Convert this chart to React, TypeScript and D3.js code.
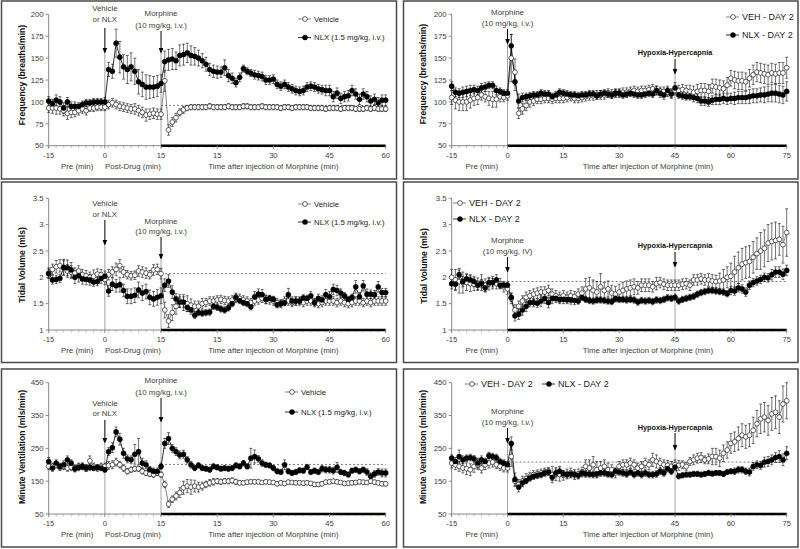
import React from 'react';
import * as d3 from 'd3';

// ---------- tick labels / names ----------
const leftXLabels = ['-15', '0', '15', '15', '30', '45', '60'];
const rightXLabels = ['-15', '0', '15', '30', '45', '60', '75'];
const freqTicks = [50, 75, 100, 125, 150, 175, 200];
const tvTicks = [1, 1.5, 2, 2.5, 3, 3.5];
const mvTicks = [50, 150, 250, 350, 450];
const leftNames = ['Vehicle', 'NLX (1.5 mg/kg, i.v.)'];
const rightNames = ['VEH - DAY 2', 'NLX - DAY 2'];

// ---------- Frequency, day 1 (pre -15..0, post-drug 1..15, morphine 1..60) ----------
const nlxA = [101,98,102,100,93,100,95,95,95,97,99,99,100,100,100,100,
137,135,167,151,140,137,140,135,123,120,117,117,117,118,121,
146,148,149,147,153,154,156,153,152,150,147,143,137,135,134,
134,139,130,127,122,128,138,135,133,131,130,129,125,125,126,
120,118,120,117,115,113,112,113,117,118,117,115,114,113,113,
106,110,104,106,107,113,109,103,109,106,101,103,99,102,102];
const vehA = [93,93,93,92,90,87,88,88,90,92,90,93,93,94,94,94,
97,99,97,95,94,93,92,92,90,88,85,86,87,86,86,
124,68,77,82,88,91,93,94,94,94,94,94,95,94,94,
94,94,95,94,94,94,95,95,94,94,94,95,94,94,94,
94,93,94,94,93,94,94,94,94,93,93,93,93,92,93,
93,93,92,93,93,93,92,92,92,93,92,93,92,92,92];
const nlxErrA = [5,5,6,6,6,5,5,5,4,4,4,4,4,4,4,5,
8,8,16,18,14,16,16,15,14,14,14,13,12,12,10,
12,12,12,10,12,12,11,11,10,9,8,8,7,7,7,
6,9,7,6,5,5,4,4,4,5,5,5,5,5,5,
5,5,5,5,5,5,5,5,5,5,5,5,5,6,6,
6,6,6,6,6,6,6,6,6,6,6,6,6,6,6];
const vehErrA = [5,6,7,6,6,7,6,5,5,5,5,4,4,4,4,4,
5,5,5,5,5,5,5,6,6,6,7,6,6,6,6,
12,6,5,5,4,4,3,3,3,3,3,3,3,3,3,
3,3,3,3,3,3,3,3,3,3,3,3,3,3,3,
3,3,3,3,3,3,3,3,3,3,3,3,3,3,3,
3,3,3,3,3,3,3,3,3,3,3,3,3,3,3];

// ---------- Frequency, day 2 (-15..75) ----------
const nlxB = [118,111,110,111,112,113,114,113,116,117,119,119,113,112,110,110,
164,123,101,105,106,107,108,108,110,109,109,106,108,111,110,
109,108,108,107,108,108,109,109,107,109,110,109,108,110,110,
108,109,110,109,108,108,109,110,109,113,110,108,113,109,116,
108,107,106,106,105,104,101,101,100,102,103,103,104,103,104,
104,105,105,105,106,107,107,108,108,109,110,110,109,108,112];
const vehB = [105,102,100,100,100,102,104,105,108,106,104,103,103,106,105,107,
150,134,87,92,96,100,101,103,103,104,104,103,104,104,104,
105,106,104,104,105,106,107,107,108,108,108,110,109,110,110,
111,111,112,113,112,113,113,114,115,113,112,112,111,110,113,
113,114,113,112,111,112,113,113,112,118,117,116,115,119,127,
125,124,124,123,127,131,134,133,132,131,133,132,133,133,139];
const nlxErrB = [5,5,5,6,6,6,5,5,5,5,4,4,5,4,4,4,
13,10,8,5,4,4,4,4,4,4,4,4,4,4,4,
4,4,4,4,4,4,4,4,4,4,4,4,4,4,4,
4,4,4,4,4,4,4,4,4,5,5,5,5,5,6,
4,4,4,4,5,5,5,5,5,5,6,6,6,6,6,
7,7,7,7,8,8,8,8,9,9,10,10,10,10,11];
const vehErrB = [8,10,10,10,10,9,8,8,6,6,8,9,9,6,5,5,
27,15,6,6,6,6,5,5,5,5,5,5,5,5,5,
5,5,5,5,5,5,5,5,5,5,5,5,5,5,5,
5,5,5,5,5,5,5,5,5,5,5,5,5,5,5,
6,6,6,7,7,8,8,8,8,8,9,9,9,9,9,
10,10,10,10,10,11,11,11,11,11,11,11,12,12,12];

// ---------- Tidal volume, day 1 ----------
const nlxC = [2.07,1.95,1.96,1.98,2.19,2.18,2.14,2.00,2.03,1.97,1.96,1.95,1.91,1.92,1.98,2.02,
1.74,1.87,1.84,1.86,1.75,1.64,1.64,1.66,1.76,1.70,1.73,1.62,1.59,1.62,1.65,
1.85,1.93,1.72,1.59,1.53,1.53,1.43,1.38,1.28,1.33,1.32,1.33,1.34,1.45,1.43,
1.40,1.38,1.42,1.50,1.62,1.56,1.52,1.50,1.44,1.63,1.68,1.67,1.58,1.60,1.58,
1.48,1.50,1.52,1.67,1.55,1.55,1.55,1.61,1.60,1.65,1.52,1.60,1.57,1.67,1.63,
1.77,1.75,1.70,1.65,1.58,1.62,1.82,1.63,1.84,1.68,1.68,1.67,1.82,1.71,1.71];
const vehC = [2.08,2.15,2.20,2.22,2.18,2.12,2.10,2.08,2.12,2.05,2.03,2.00,2.02,2.06,2.05,1.96,
2.05,2.10,2.15,2.22,2.10,2.05,2.03,2.04,2.12,2.10,2.08,2.05,2.14,2.15,2.07,
1.38,1.17,1.33,1.45,1.55,1.52,1.50,1.47,1.45,1.45,1.50,1.52,1.55,1.55,1.57,
1.58,1.56,1.55,1.57,1.60,1.60,1.57,1.55,1.52,1.55,1.57,1.60,1.58,1.57,1.55,
1.52,1.50,1.55,1.55,1.52,1.55,1.55,1.52,1.55,1.55,1.52,1.50,1.52,1.55,1.55,
1.55,1.52,1.55,1.52,1.50,1.52,1.55,1.55,1.52,1.55,1.52,1.55,1.55,1.55,1.55];
const nlxErrC = [0.08,0.08,0.08,0.08,0.15,0.15,0.14,0.12,0.12,0.10,0.10,0.10,0.08,0.08,0.10,0.10,
0.10,0.12,0.12,0.14,0.12,0.14,0.14,0.14,0.15,0.14,0.14,0.14,0.14,0.15,0.15,
0.12,0.12,0.12,0.10,0.10,0.10,0.08,0.08,0.06,0.06,0.06,0.06,0.06,0.06,0.06,
0.06,0.06,0.06,0.06,0.08,0.06,0.06,0.06,0.06,0.10,0.10,0.10,0.08,0.06,0.06,
0.06,0.06,0.06,0.12,0.08,0.08,0.06,0.06,0.06,0.08,0.06,0.08,0.08,0.10,0.10,
0.10,0.10,0.08,0.06,0.06,0.06,0.12,0.08,0.10,0.10,0.08,0.08,0.10,0.08,0.08];
const vehErrC = [0.10,0.10,0.12,0.12,0.14,0.12,0.12,0.10,0.10,0.10,0.10,0.10,0.12,0.10,0.10,0.10,
0.10,0.10,0.12,0.12,0.10,0.08,0.08,0.08,0.10,0.10,0.10,0.08,0.10,0.10,0.10,
0.15,0.12,0.15,0.15,0.12,0.15,0.15,0.12,0.10,0.10,0.10,0.08,0.08,0.08,0.08,
0.08,0.08,0.08,0.08,0.08,0.08,0.08,0.08,0.08,0.08,0.08,0.08,0.08,0.08,0.08,
0.08,0.08,0.08,0.08,0.08,0.08,0.08,0.08,0.08,0.08,0.08,0.08,0.08,0.08,0.08,
0.08,0.08,0.08,0.08,0.08,0.08,0.08,0.08,0.08,0.08,0.08,0.08,0.08,0.08,0.08];

// ---------- Tidal volume, day 2 ----------
const nlxD = [1.88,1.87,2.05,1.92,1.97,1.95,1.92,1.85,1.88,1.80,1.90,1.90,1.95,1.85,1.85,1.85,
1.62,1.27,1.30,1.38,1.45,1.52,1.52,1.51,1.55,1.60,1.52,1.60,1.60,1.58,1.58,
1.58,1.57,1.56,1.55,1.62,1.58,1.56,1.55,1.57,1.57,1.56,1.55,1.54,1.60,1.58,
1.58,1.57,1.58,1.57,1.53,1.56,1.55,1.56,1.54,1.57,1.56,1.58,1.61,1.60,1.62,
1.55,1.58,1.60,1.62,1.64,1.68,1.71,1.73,1.75,1.75,1.74,1.73,1.72,1.69,1.75,
1.74,1.80,1.78,1.72,1.85,1.90,1.93,1.96,2.00,1.99,2.05,2.10,2.10,2.06,2.13];
const vehD = [2.00,1.95,1.92,1.90,1.90,1.88,1.87,1.87,1.90,1.85,1.88,1.90,1.88,1.88,1.82,1.78,
1.60,1.38,1.45,1.55,1.62,1.65,1.68,1.70,1.72,1.72,1.75,1.68,1.65,1.62,1.65,
1.62,1.65,1.63,1.68,1.70,1.78,1.80,1.75,1.72,1.82,1.75,1.78,1.70,1.68,1.72,
1.75,1.78,1.80,1.82,1.80,1.85,1.85,1.85,1.82,1.88,1.90,1.87,1.85,1.85,1.85,
1.85,1.87,1.88,1.85,1.95,1.95,1.97,1.95,1.95,1.93,1.92,1.93,1.95,2.00,2.02,
2.10,2.18,2.25,2.28,2.30,2.38,2.45,2.50,2.55,2.65,2.68,2.70,2.72,2.62,2.85];
const nlxErrD = [0.10,0.10,0.12,0.10,0.10,0.10,0.10,0.08,0.08,0.08,0.08,0.08,0.10,0.06,0.06,0.06,
0.08,0.10,0.10,0.10,0.10,0.08,0.08,0.08,0.10,0.10,0.10,0.10,0.08,0.08,0.08,
0.08,0.08,0.08,0.06,0.06,0.06,0.06,0.06,0.06,0.06,0.06,0.06,0.06,0.06,0.06,
0.06,0.06,0.06,0.06,0.06,0.06,0.06,0.06,0.06,0.06,0.06,0.06,0.06,0.06,0.06,
0.06,0.06,0.06,0.06,0.06,0.06,0.06,0.06,0.06,0.06,0.06,0.06,0.06,0.06,0.08,
0.08,0.08,0.08,0.08,0.08,0.08,0.08,0.08,0.08,0.08,0.10,0.10,0.10,0.10,0.10];
const vehErrD = [0.15,0.20,0.22,0.20,0.15,0.15,0.12,0.12,0.15,0.12,0.12,0.12,0.10,0.10,0.10,0.10,
0.10,0.10,0.10,0.10,0.10,0.10,0.10,0.10,0.10,0.10,0.10,0.10,0.10,0.10,0.10,
0.10,0.10,0.10,0.10,0.12,0.20,0.20,0.20,0.20,0.25,0.15,0.15,0.15,0.15,0.15,
0.15,0.15,0.15,0.15,0.12,0.12,0.12,0.12,0.10,0.12,0.10,0.10,0.10,0.10,0.10,
0.10,0.10,0.10,0.10,0.10,0.10,0.10,0.10,0.12,0.12,0.12,0.15,0.20,0.20,0.25,
0.30,0.30,0.30,0.30,0.30,0.30,0.30,0.35,0.35,0.35,0.35,0.35,0.30,0.35,0.45];

// ---------- Minute ventilation, day 1 ----------
const nlxE = [210,190,205,195,200,215,205,188,192,195,190,192,190,192,190,185,
240,252,300,278,235,218,215,232,240,205,200,185,180,180,195,
265,280,250,240,230,232,215,200,190,198,190,188,185,195,192,
188,190,188,190,198,195,205,195,220,225,218,205,200,198,190,
180,178,200,180,175,178,183,182,193,178,182,178,188,185,185,
182,192,178,175,170,182,185,180,185,178,165,172,178,175,175];
const vehE = [195,195,200,192,195,190,192,190,195,195,190,212,195,190,195,195,
198,200,208,200,190,180,185,188,188,180,175,172,170,175,170,
140,80,95,105,115,130,135,132,135,132,135,140,145,148,150,
148,150,150,152,148,145,145,147,148,148,148,146,148,147,146,
142,145,143,147,146,145,145,144,145,143,140,140,142,147,148,
150,148,146,143,144,145,146,148,147,146,150,147,145,142,142];
const nlxErrE = [12,10,10,10,12,12,10,10,10,10,10,10,8,8,8,8,
12,15,15,18,15,12,12,30,40,15,12,10,10,10,10,
15,18,12,12,12,12,10,10,8,8,8,8,8,8,8,
8,8,8,8,8,8,8,8,30,20,10,10,8,8,8,
8,8,15,8,8,8,8,8,8,8,8,8,10,10,10,
10,15,8,8,8,8,8,8,8,10,10,10,10,12,12];
const vehErrE = [10,10,10,10,10,10,10,10,10,10,10,15,10,10,10,10,
12,12,12,10,10,8,8,8,8,8,8,8,8,8,8,
10,10,10,12,15,20,20,22,18,15,12,10,10,10,8,
8,8,8,8,8,6,6,6,6,6,6,6,6,6,6,
6,6,6,6,6,6,6,6,6,6,6,6,6,6,6,
6,6,6,6,6,6,6,6,6,6,6,6,6,6,6];

// ---------- Minute ventilation, day 2 ----------
const nlxF = [220,210,225,215,220,222,218,205,215,210,228,225,222,210,205,200,
265,155,132,145,152,160,165,168,170,175,178,162,175,180,172,
170,172,170,168,175,172,172,170,172,175,175,172,170,180,178,
175,172,178,170,175,170,175,170,170,172,180,175,188,180,193,
165,168,170,170,172,172,170,172,175,173,175,175,172,178,180,
180,185,185,180,178,195,200,198,208,210,215,222,225,215,235];
const vehF = [205,200,195,190,188,185,195,200,190,200,205,208,200,195,190,190,
225,150,140,150,158,165,170,172,175,178,180,170,172,170,168,
172,175,170,172,178,195,190,200,185,190,195,185,185,175,195,
200,200,205,200,190,195,205,200,215,210,205,200,198,195,200,
198,200,195,210,215,220,222,215,218,225,225,220,235,245,265,
270,280,290,285,290,305,325,340,345,335,355,360,345,385,395];
const nlxErrF = [10,12,20,12,10,10,10,15,12,10,10,10,10,10,10,10,
20,20,15,12,10,10,10,10,10,10,10,10,12,15,10,
10,10,10,10,10,10,10,10,10,10,10,10,10,10,10,
10,10,10,10,10,10,10,10,10,10,10,10,10,10,10,
8,8,8,8,8,8,8,8,8,8,8,8,8,8,8,
10,10,10,10,12,12,12,12,15,15,15,15,18,18,20];
const vehErrF = [15,15,15,15,18,18,18,15,15,15,15,15,12,12,12,12,
30,15,15,15,15,12,12,12,12,12,12,25,20,20,15,
15,15,15,15,15,20,25,25,25,20,20,20,15,15,15,
15,15,15,15,15,15,15,15,20,20,15,15,15,15,15,
15,12,12,12,15,15,15,12,15,25,25,25,25,25,30,
30,35,35,35,35,40,40,45,45,45,50,50,50,55,55];

// ---------- layout ----------
const FONT = '"Liberation Sans", Arial, sans-serif';
const LX0 = 48.7, LX1 = 385.7, RX0 = 451.7, RX1 = 786.7;

type Ann = { lines: string[]; idx: number; ys: number[]; arrow: [number, number]; bold?: boolean };
type Cfg = {
  frame: [number, number, number, number];
  x0: number; x1: number; yTop: number; yBot: number;
  yDomain: [number, number]; yTicks: number[]; yTitle: string; titleX: number; titleY: number;
  xLabels: string[]; thickFrom: number; dashed: null | { v: number; from: number };
  subs: [string, number][]; anns: Ann[];
  legend: { names: string[]; pos: [number, number][]; size: number };
  veh: number[]; vehErr: number[]; nlx: number[]; nlxErr: number[];
};

const morphLines = ['Morphine', '(10 mg/kg, i.v.)'];
const vehLines = ['Vehicle', 'or NLX'];
const hypLines = ['Hypoxia-Hypercapnia'];
const minorIdx = d3.range(0, 91, 2);

const panels: Cfg[] = [
  {
    frame: [1.5, 1, 395, 178], x0: LX0, x1: LX1, yTop: 14.3, yBot: 145.7,
    yDomain: [50, 200], yTicks: freqTicks, yTitle: 'Frequency (breaths/min)', titleX: 22, titleY: 75,
    xLabels: leftXLabels, thickFrom: 30, dashed: { v: 96, from: 30 },
    subs: [['Pre (min)', 7.6], ['Post-Drug (min)', 22.5], ['Time after injection of Morphine (min)', 60]],
    anns: [
      { lines: vehLines, idx: 15, ys: [11, 22], arrow: [28, 54] },
      { lines: morphLines, idx: 30, ys: [16, 27.5], arrow: [31, 54] },
    ],
    legend: { names: leftNames, pos: [[298, 19], [298, 37.5]], size: 7.8 },
    veh: vehA, vehErr: vehErrA, nlx: nlxA, nlxErr: nlxErrA,
  },
  {
    frame: [403.5, 1, 394.5, 178], x0: RX0, x1: RX1, yTop: 14.3, yBot: 145.7,
    yDomain: [50, 200], yTicks: freqTicks, yTitle: 'Frequency (breaths/min)', titleX: 423, titleY: 74,
    xLabels: rightXLabels, thickFrom: 15, dashed: null,
    subs: [['Pre (min)', 8.1], ['Time after injection of Morphine (min)', 52.7]],
    anns: [
      { lines: morphLines, idx: 15, ys: [14.5, 26], arrow: [29, 45] },
      { lines: hypLines, idx: 60, ys: [54.5], arrow: [59, 75], bold: true },
    ],
    legend: { names: rightNames, pos: [[726, 17], [726, 35]], size: 9 },
    veh: vehB, vehErr: vehErrB, nlx: nlxB, nlxErr: nlxErrB,
  },
  {
    frame: [1.5, 182, 395, 180.5], x0: LX0, x1: LX1, yTop: 198.3, yBot: 330,
    yDomain: [1, 3.5], yTicks: tvTicks, yTitle: 'Tidal Volume (mls)', titleX: 22, titleY: 265,
    xLabels: leftXLabels, thickFrom: 30, dashed: { v: 2.07, from: 30 },
    subs: [['Pre (min)', 7.6], ['Post-Drug (min)', 22.5], ['Time after injection of Morphine (min)', 60]],
    anns: [
      { lines: vehLines, idx: 15, ys: [205.5, 216.5], arrow: [220, 246] },
      { lines: morphLines, idx: 30, ys: [223.5, 233.5], arrow: [237, 260] },
    ],
    legend: { names: leftNames, pos: [[298, 204], [298, 222]], size: 7.8 },
    veh: vehC, vehErr: vehErrC, nlx: nlxC, nlxErr: nlxErrC,
  },
  {
    frame: [403.5, 182, 394.5, 180.5], x0: RX0, x1: RX1, yTop: 198.3, yBot: 330,
    yDomain: [1, 3.5], yTicks: tvTicks, yTitle: 'Tidal Volume (mls)', titleX: 424, titleY: 266,
    xLabels: rightXLabels, thickFrom: 15, dashed: { v: 1.92, from: 15 },
    subs: [['Pre (min)', 8.1], ['Time after injection of Morphine (min)', 52.7]],
    anns: [
      { lines: ['Morphine', '(10 mg/kg, IV)'], idx: 15, ys: [243, 254], arrow: [257, 273] },
      { lines: hypLines, idx: 60, ys: [248], arrow: [252, 268], bold: true },
    ],
    legend: { names: rightNames, pos: [[453, 203], [453, 219]], size: 9 },
    veh: vehD, vehErr: vehErrD, nlx: nlxD, nlxErr: nlxErrD,
  },
  {
    frame: [1.5, 369, 395, 178], x0: LX0, x1: LX1, yTop: 382.7, yBot: 514,
    yDomain: [50, 450], yTicks: mvTicks, yTitle: 'Minute Ventilation (mls/min)', titleX: 22, titleY: 447,
    xLabels: leftXLabels, thickFrom: 30, dashed: { v: 201, from: 30 },
    subs: [['Pre (min)', 7.6], ['Post-Drug (min)', 22.5], ['Time after injection of Morphine (min)', 60]],
    anns: [
      { lines: morphLines, idx: 30, ys: [383, 394.5], arrow: [398, 423] },
      { lines: vehLines, idx: 15, ys: [405.5, 416], arrow: [420, 444] },
    ],
    legend: { names: leftNames, pos: [[285, 392], [285, 412]], size: 7.8 },
    veh: vehE, vehErr: vehErrE, nlx: nlxE, nlxErr: nlxErrE,
  },
  {
    frame: [403.5, 369, 394.5, 178], x0: RX0, x1: RX1, yTop: 382.7, yBot: 514,
    yDomain: [50, 450], yTicks: mvTicks, yTitle: 'Minute Ventilation (mls/min)', titleX: 423, titleY: 447,
    xLabels: rightXLabels, thickFrom: 15, dashed: { v: 208, from: 15 },
    subs: [['Pre (min)', 8.1], ['Time after injection of Morphine (min)', 52.7]],
    anns: [
      { lines: morphLines, idx: 15, ys: [413.5, 424.5], arrow: [428, 444] },
      { lines: hypLines, idx: 60, ys: [429.5], arrow: [433, 451], bold: true },
    ],
    legend: { names: rightNames, pos: [[465, 384], [542, 384]], size: 9 },
    veh: vehF, vehErr: vehErrF, nlx: nlxF, nlxErr: nlxErrF,
  },
];

function Marker({ cx, cy, open }: { cx: number; cy: number; open: boolean }) {
  return open
    ? <circle cx={cx} cy={cy} r={2.4} fill="#fff" stroke="#222" strokeWidth={0.7} />
    : <circle cx={cx} cy={cy} r={2.6} fill="#000" stroke="#000" strokeWidth={0.3} />;
}

function Panel({ p }: { p: Cfg }) {
  const x = d3.scaleLinear().domain([0, 90]).range([p.x0, p.x1]);
  const y = d3.scaleLinear().domain(p.yDomain).range([p.yBot, p.yTop]);
  const line = d3.line<number>().x((_, i) => x(i)).y((d) => y(d));
  const axisY = p.yBot;
  const series = [
    { v: p.veh, e: p.vehErr, open: true, stroke: '#666' },
    { v: p.nlx, e: p.nlxErr, open: false, stroke: '#000' },
  ];
  return (
    <g fontFamily={FONT}>
      <rect x={p.frame[0]} y={p.frame[1]} width={p.frame[2]} height={p.frame[3]} fill="#fff" stroke="#4a4a4a" strokeWidth={1.5} />
      {/* vertical reference lines */}
      {p.anns.map((a, i) => (
        <line key={'v' + i} x1={x(a.idx)} x2={x(a.idx)} y1={a.arrow[1]} y2={axisY} stroke="#999" strokeWidth={0.9} />
      ))}
      {p.dashed && (
        <line x1={x(p.dashed.from)} x2={x(90)} y1={y(p.dashed.v)} y2={y(p.dashed.v)} stroke="#444" strokeWidth={0.7} strokeDasharray="2,2" />
      )}
      {/* y axis */}
      <line x1={p.x0} x2={p.x0} y1={p.yTop} y2={axisY} stroke="#888" strokeWidth={1} />
      {p.yTicks.map((t) => (
        <g key={t}>
          <line x1={p.x0 - 3} x2={p.x0} y1={y(t)} y2={y(t)} stroke="#888" />
          <text x={p.x0 - 5} y={y(t)} dy="0.35em" textAnchor="end" fontSize={7.8} fill="#404040">{String(t)}</text>
        </g>
      ))}
      <text transform={`translate(${p.titleX},${p.titleY}) rotate(-90)`} textAnchor="middle" dy="0.35em" fontSize={8.6} fontWeight="bold" fill="#111">{p.yTitle}</text>
      {/* x axis: minor ticks first, then axis lines on top */}
      {minorIdx.map((i) => (
        <line key={'mt' + i} x1={x(i)} x2={x(i)} y1={axisY} y2={axisY + 2.5} stroke="#999" strokeWidth={0.6} />
      ))}
      <line x1={p.x0} x2={x(p.thickFrom)} y1={axisY} y2={axisY} stroke="#888" strokeWidth={1} />
      <line x1={x(p.thickFrom)} x2={p.x1} y1={axisY} y2={axisY} stroke="#000" strokeWidth={2.6} />
      {p.xLabels.map((l, i) => (
        <g key={'x' + i}>
          <line x1={x(i * 15)} x2={x(i * 15)} y1={axisY} y2={axisY + 3} stroke="#888" />
          <text x={x(i * 15)} y={axisY + 12} textAnchor="middle" fontSize={7.6} fill="#404040">{l}</text>
        </g>
      ))}
      {p.subs.map(([t, idx]) => (
        <text key={t} x={x(idx)} y={axisY + 23} textAnchor="middle" fontSize={7.9} fill="#404040">{t}</text>
      ))}
      {/* error bars */}
      {series.map((s, si) => (
        <g key={'e' + si} stroke="#111" strokeWidth={0.6}>
          {s.v.map((v, i) => {
            const cx = x(i), ya = y(v + s.e[i]), yb = y(v - s.e[i]);
            return (
              <g key={i}>
                <line x1={cx} x2={cx} y1={ya} y2={yb} />
                <line x1={cx - 1.5} x2={cx + 1.5} y1={ya} y2={ya} />
                <line x1={cx - 1.5} x2={cx + 1.5} y1={yb} y2={yb} />
              </g>
            );
          })}
        </g>
      ))}
      {series.map((s, si) => (
        <path key={'l' + si} d={line(s.v) || ''} fill="none" stroke={s.stroke} strokeWidth={0.8} />
      ))}
      {series.map((s, si) => (
        <g key={'m' + si}>
          {s.v.map((v, i) => <Marker key={i} cx={x(i)} cy={y(v)} open={s.open} />)}
        </g>
      ))}
      {/* annotations */}
      {p.anns.map((a, i) => {
        const ax = x(a.idx);
        return (
          <g key={'a' + i}>
            {a.lines.map((t, j) => (
              <text key={j} x={ax} y={a.ys[j]} textAnchor="middle" fontSize={a.bold ? 7.3 : 7.9} fontWeight={a.bold ? 'bold' : 'normal'} fill={a.bold ? '#111' : '#404040'}>{t}</text>
            ))}
            <line x1={ax} x2={ax} y1={a.arrow[0]} y2={a.arrow[1] - 5} stroke="#000" strokeWidth={1} />
            <polygon points={`${ax - 2.3},${a.arrow[1] - 6} ${ax + 2.3},${a.arrow[1] - 6} ${ax},${a.arrow[1]}`} fill="#000" />
          </g>
        );
      })}
      {/* legend */}
      {p.legend.names.map((n, i) => {
        const [lx, ly] = p.legend.pos[i];
        return (
          <g key={'lg' + i}>
            <line x1={lx} x2={lx + 13} y1={ly} y2={ly} stroke={i === 0 ? '#666' : '#000'} strokeWidth={0.8} />
            <Marker cx={lx + 7} cy={ly} open={i === 0} />
            <text x={lx + 16} y={ly} dy="0.35em" fontSize={p.legend.size} fill="#222">{n}</text>
          </g>
        );
      })}
    </g>
  );
}

export default function App() {
  return (
    <svg width={800} height={549} style={{ position: 'absolute', left: 0, top: 0, background: '#fff' }}>
      <rect x={0} y={0} width={800} height={549} fill="#fff" />
      {panels.map((p, i) => <Panel key={i} p={p} />)}
    </svg>
  );
}
